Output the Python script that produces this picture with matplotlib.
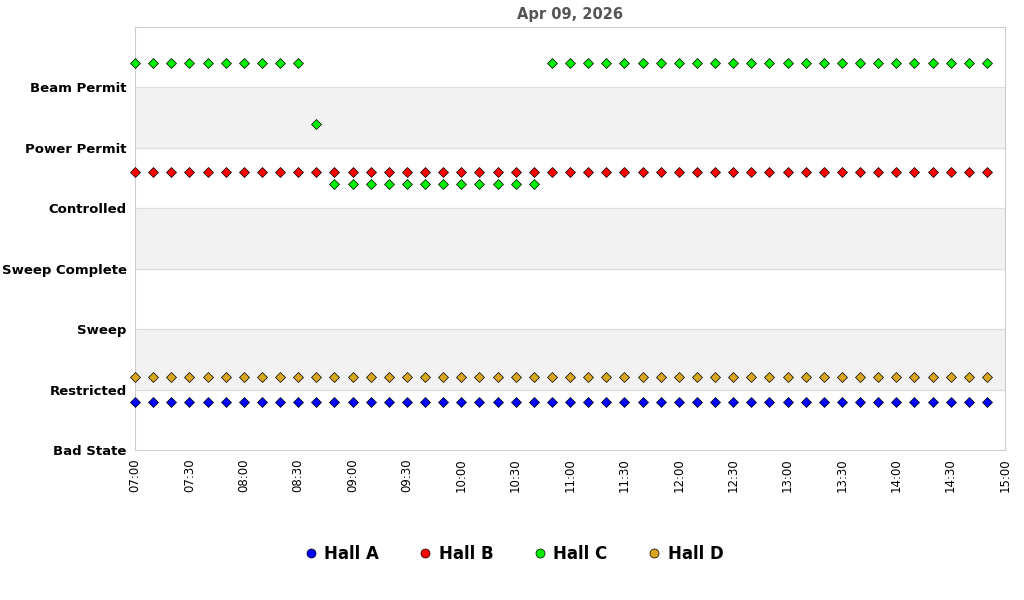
import matplotlib.pyplot as plt
import numpy as np

states = ['Bad State', 'Restricted', 'Sweep', 'Sweep Complete', 'Controlled', 'Power Permit', 'Beam Permit']
minutes = list(range(0, 480, 10))  # minutes after 07:00, 07:00 .. 14:50

hall_a = ['Restricted'] * 48
hall_b = ['Power Permit'] * 48
hall_c = ['Beam Permit'] * 10 + ['Power Permit'] + ['Controlled'] * 12 + ['Beam Permit'] * 25
hall_d = ['Restricted'] * 48

halls = ['Hall A', 'Hall B', 'Hall C', 'Hall D']
colors = ['#0000ff', '#ff0000', '#00ee00', '#daa520']
offsets = [-0.2, -0.4, 0.4, 0.2]

fig = plt.figure(figsize=(10.24, 6.0), dpi=100)
ax = fig.add_axes([135 / 1024, 1 - 450 / 600, 870 / 1024, 423 / 600])

for i in range(len(states)):
    if i % 2 == 1:
        ax.axhspan(i, i + 1, color='#f2f2f2', zorder=0)
for i in range(1, len(states)):
    ax.axhline(i, color='#dddddd', lw=0.8, zorder=1)

for name, series, c, off in zip(halls, [hall_a, hall_b, hall_c, hall_d], colors, offsets):
    y = [states.index(s) + off for s in series]
    ax.plot(minutes, y, 'D', color=c, mec='black', mew=0.5, ms=5, label=name, zorder=3, clip_on=False)

ax.set_xlim(0, 480)
ax.set_ylim(0, 7)
ax.set_yticks(range(len(states)))
ax.set_yticklabels(states, fontweight='bold', fontsize=9.5)
ticks = list(range(0, 481, 30))
ax.set_xticks(ticks)
ax.set_xticklabels(['%02d:%02d' % (7 + t // 60, t % 60) for t in ticks], rotation=90, fontsize=8.5)
ax.tick_params(length=0, pad=6)
for s in ax.spines.values():
    s.set_color('#cccccc')
ax.set_title('Apr 09, 2026', fontweight='bold', color='#555555', fontsize=10.5, pad=6)

leg = fig.legend(loc='center', bbox_to_anchor=(0.5, 1 - 554 / 600), ncol=4, frameon=False,
                 prop={'weight': 'bold', 'size': 12}, handletextpad=0.2, columnspacing=2.2,
                 handlelength=1.2)
for h in leg.legend_handles:
    h.set_marker('o')
    h.set_markersize(6.5)

fig.savefig('out.png', dpi=100)
